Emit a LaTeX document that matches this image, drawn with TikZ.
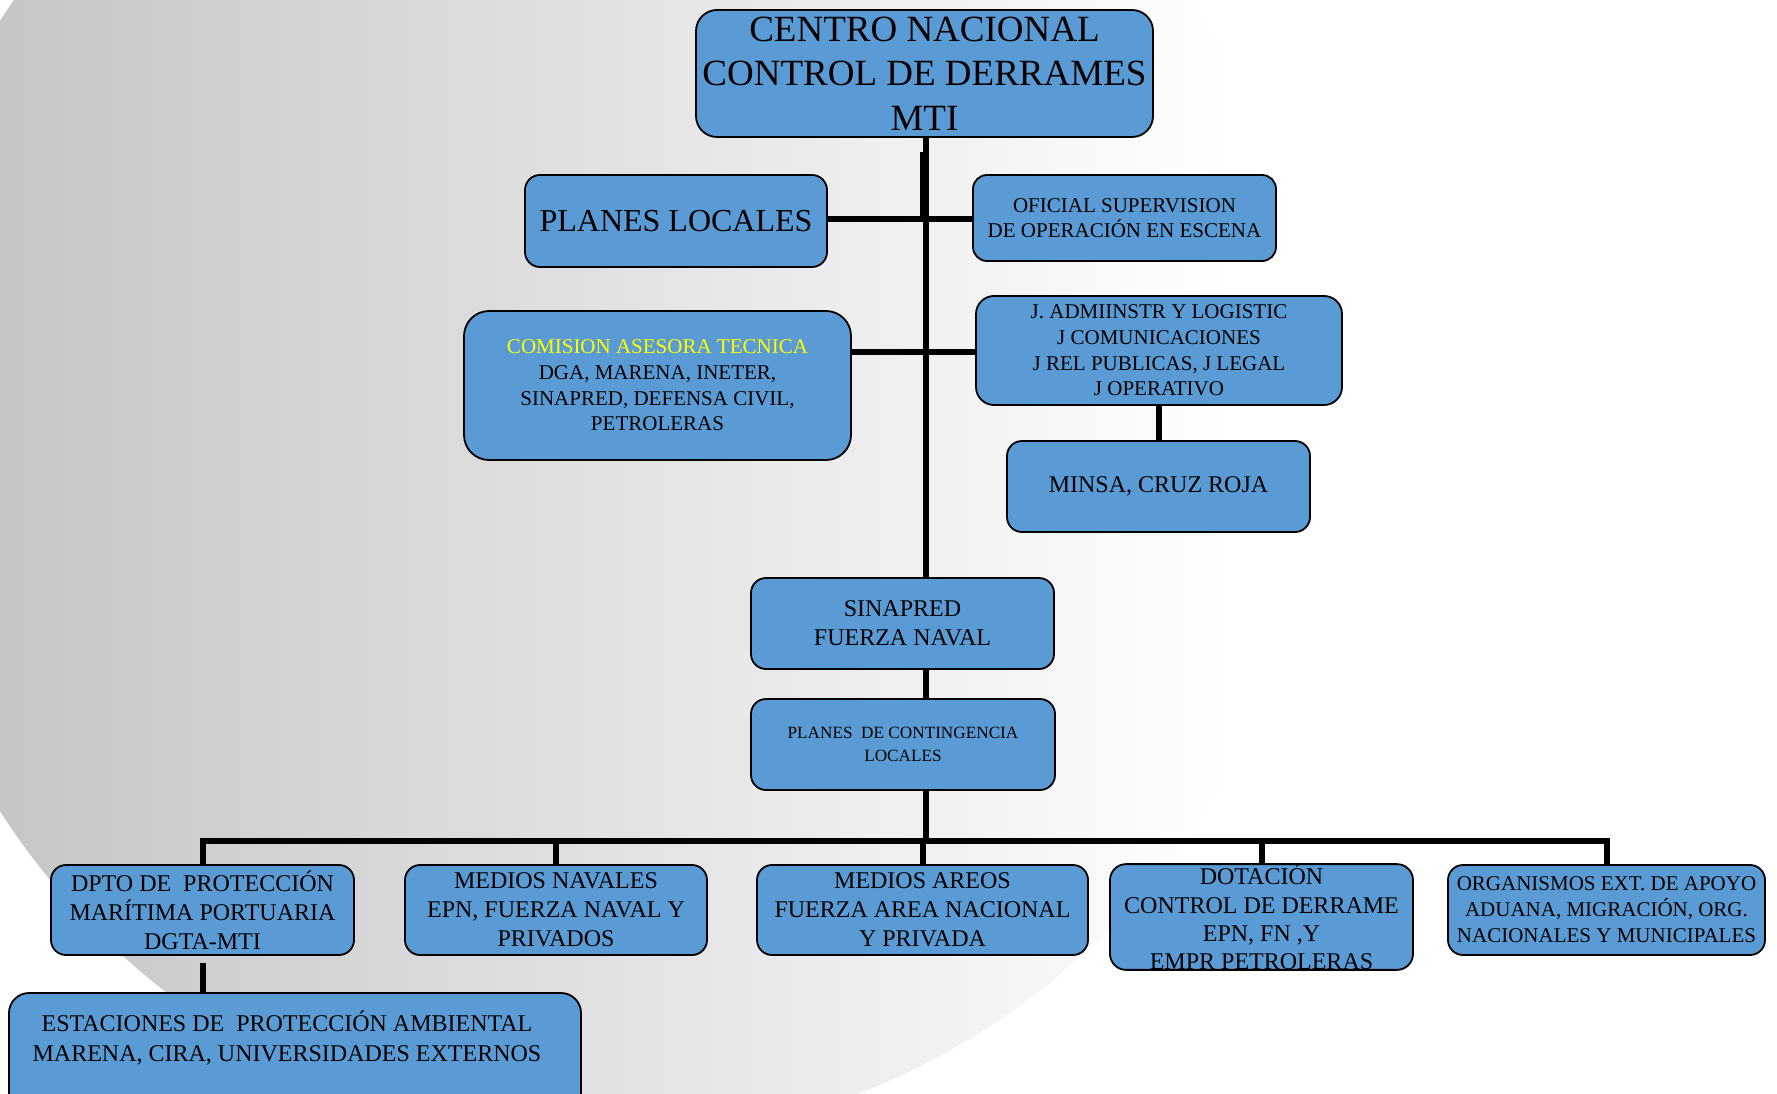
\documentclass[tikz,border=0pt]{standalone}
\usepackage{fontspec}
\setmainfont{Liberation Serif}
\definecolor{boxblue}{RGB}{91,155,213}
\definecolor{bggray}{RGB}{192,192,192}
\definecolor{tyellow}{RGB}{255,255,0}
\pgfdeclarehorizontalshading{bgshade}{100bp}{color(0bp)=(bggray); color(25bp)=(bggray); color(72bp)=(white); color(100bp)=(white)}
\begin{document}
\begin{tikzpicture}[x=1pt,y=-1pt,
  box/.style={draw=black, line width=1.8pt, fill=boxblue, inner sep=0pt, align=center, text=black},
  conn/.style={line width=6pt, draw=black},
  f37/.style={font=\fontsize{37}{44.5}\selectfont},
  f32/.style={font=\fontsize{32}{38}\selectfont},
  f24/.style={font=\fontsize{24}{29}\selectfont},
  f21/.style={font=\fontsize{21}{25.7}\selectfont},
  f17/.style={font=\fontsize{17.2}{22.7}\selectfont}
]
\clip (0,0) rectangle (1777,1094);
\fill[white] (0,0) rectangle (1777,1094);
\shade[shading=bgshade] (602,416) ellipse [x radius=718, y radius=725];

% top part
\node[box, f37, minimum width=457pt, minimum height=127pt, rounded corners=21pt] (centro) at (924.5,73.5) {CENTRO NACIONAL\\CONTROL DE DERRAMES\\MTI};
\node[box, f32, minimum width=302pt, minimum height=92pt, rounded corners=15pt] (planesloc) at (676,221) {PLANES LOCALES};
\node[box, f21, minimum width=303pt, minimum height=86pt, rounded corners=14pt] (oficial) at (1124.5,218) {OFICIAL SUPERVISION\\DE OPERACIÓN EN ESCENA};
\node[box, f21, minimum width=387pt, minimum height=149pt, rounded corners=25pt] (comision) at (657.5,385.5) {\textcolor{tyellow}{COMISION ASESORA TECNICA}\\DGA, MARENA, INETER,\\SINAPRED, DEFENSA CIVIL,\\PETROLERAS};
\node[box, f21, minimum width=366pt, minimum height=109pt, rounded corners=18pt] (jadmin) at (1159,350.5) {J. ADMIINSTR Y LOGISTIC\\J COMUNICACIONES\\J REL PUBLICAS, J LEGAL\\J OPERATIVO};
\node[box, f24, minimum width=303pt, minimum height=91pt, rounded corners=15pt] (minsa) at (1158.5,486.5) {MINSA, CRUZ ROJA};
\node[box, f24, minimum width=303pt, minimum height=91pt, rounded corners=15pt] (sinapred) at (902.5,623.5) {SINAPRED\\FUERZA NAVAL};
\node[box, f17, minimum width=304pt, minimum height=91pt, rounded corners=15pt] (planescont) at (903,744.5) {PLANES\ \ DE CONTINGENCIA\\LOCALES};

% bottom row
\node[box, f24, minimum width=303pt, minimum height=90pt, rounded corners=15pt] (dpto) at (202.5,910) {DPTO DE\ \ PROTECCIÓN\\MARÍTIMA PORTUARIA\\DGTA-MTI};
\node[box, f24, minimum width=302pt, minimum height=90pt, rounded corners=15pt] (navales) at (556,910) {MEDIOS NAVALES\\EPN, FUERZA NAVAL Y\\PRIVADOS};
\node[box, f24, minimum width=331pt, minimum height=90pt, rounded corners=15pt] (areos) at (922.5,910) {MEDIOS AREOS\\FUERZA AREA NACIONAL\\Y PRIVADA};
\node[box, font=\fontsize{24}{28.3}\selectfont, minimum width=303pt, minimum height=104pt, rounded corners=16pt] (dotacion) at (1261.5,917) {DOTACIÓN\\CONTROL DE DERRAME\\EPN, FN ,Y\\EMPR PETROLERAS};
\node[box, font=\fontsize{21}{26}\selectfont, minimum width=317pt, minimum height=90pt, rounded corners=15pt] (organismos) at (1606.5,910) {ORGANISMOS EXT. DE APOYO\\ADUANA, MIGRACIÓN, ORG.\\NACIONALES Y MUNICIPALES};
\node[box, minimum width=572pt, minimum height=137pt, rounded corners=20pt] (estaciones) at (295,1061.5) {};
\node[align=center, inner sep=0pt, font=\fontsize{24}{30}\selectfont] (estext) at (287,1038) {ESTACIONES DE\ \ PROTECCIÓN AMBIENTAL\\MARENA, CIRA, UNIVERSIDADES EXTERNOS};

% connectors
\coordinate (tx) at (925.5,0);
\coordinate (hy1) at (0,219);
\coordinate (hy2) at (0,351.5);
\coordinate (bend1) at (923,152);
\coordinate (bus) at (0,841);
\draw[conn] (centro.south -| tx) -- (sinapred.north -| tx);
\draw[conn] (sinapred.south -| tx) -- (planescont.north -| tx);
\draw[conn] (planescont.south -| tx) -- (bus -| tx);
\draw[conn] (planesloc.east |- hy1) -- (bend1 |- hy1) -- (bend1);
\draw[conn] (oficial.west |- hy1) -- (tx |- hy1);
\draw[conn] (comision.east |- hy2) -- (jadmin.west |- hy2);
\draw[conn] (jadmin.south) -- (jadmin.south |- minsa.north);
\draw[conn] (dpto.north) -- (dpto.north |- bus) -- (organismos.north |- bus) -- (organismos.north);
\draw[conn] (navales.north) -- (navales.north |- bus);
\draw[conn] (areos.north) -- (areos.north |- bus);
\draw[conn] (dotacion.north) -- (dotacion.north |- bus);
\draw[conn] ([yshift=-7pt]dpto.south) -- (dpto.south |- estaciones.north);
\end{tikzpicture}
\end{document}
